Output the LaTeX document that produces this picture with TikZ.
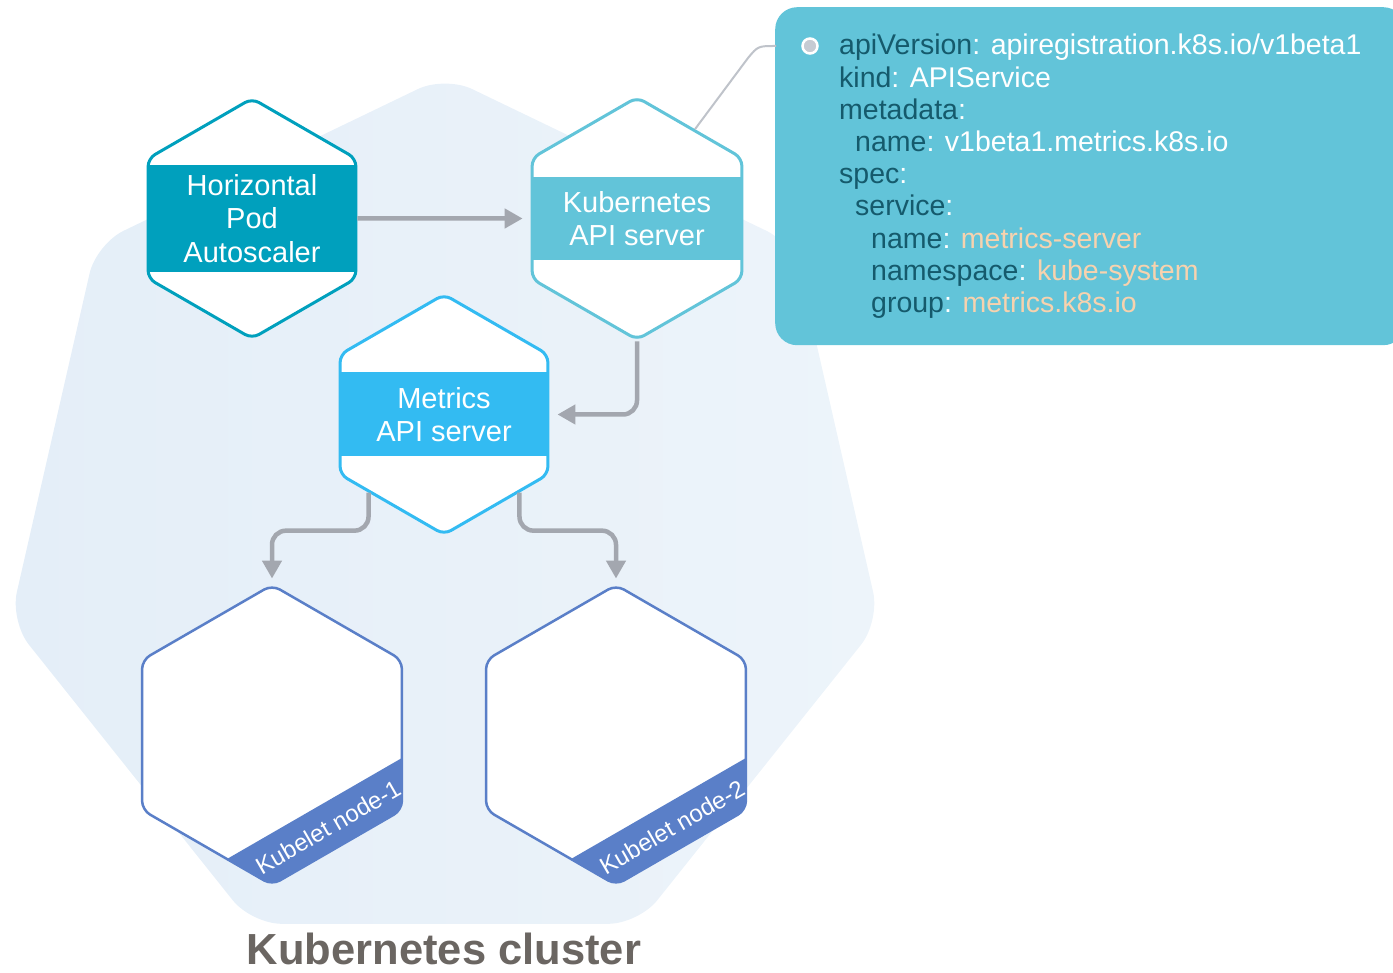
\documentclass[tikz,border=0pt]{standalone}
\usepackage{fontspec}
\setmainfont{Liberation Sans}
\usetikzlibrary{arrows.meta,positioning,calc,shapes.geometric}

\definecolor{clusterleft}{HTML}{E4EEF8}
\definecolor{clusterright}{HTML}{EDF4FA}
\definecolor{hpacol}{HTML}{00A0BD}
\definecolor{apicol}{HTML}{62C4D9}
\definecolor{metricscol}{HTML}{33BBF2}
\definecolor{kubeletcol}{HTML}{5A7FC8}
\definecolor{arrowcol}{HTML}{A3A7AF}
\definecolor{tethercol}{HTML}{BFC3CA}
\definecolor{keycol}{HTML}{155A6C}
\definecolor{peach}{HTML}{F7D2AE}
\definecolor{titlecol}{HTML}{6B6662}
\definecolor{dotcol}{HTML}{C6CBD3}

\newcommand{\ykey}[1]{\textcolor{keycol}{#1}}
\newcommand{\yval}[1]{\textcolor{peach}{#1}}

\tikzset{
  cluster/.style={regular polygon, regular polygon sides=7, minimum size=892pt,
    inner sep=0pt, rounded corners=30pt, left color=clusterleft, right color=clusterright},
  clustername/.style={text=titlecol, font=\fontsize{43.5}{48}\selectfont\bfseries},
  hexnode/.style 2 args={regular polygon, regular polygon sides=6, shape border rotate=30,
    minimum size=240pt, inner sep=0pt, draw=#1, line width=3pt, fill=white,
    rounded corners=8pt, text=white, align=center,
    font=\fontsize{29}{33.5}\selectfont,
    path picture={\fill[#1, sharp corners]
      ([xshift=-130pt,yshift=#2]path picture bounding box.center) rectangle
      ([xshift=130pt,yshift=-#2]path picture bounding box.center);}},
  kubenode/.style={regular polygon, regular polygon sides=6, shape border rotate=30,
    minimum size=300pt, inner sep=0pt, draw=kubeletcol, line width=2.5pt, fill=white,
    rounded corners=9pt,
    path picture={\fill[kubeletcol, sharp corners]
      ([xshift=-150pt,yshift=-184.6pt]path picture bounding box.center) --
      ([xshift=150pt,yshift=-11.4pt]path picture bounding box.center) --
      ([xshift=150pt,yshift=-230pt]path picture bounding box.center) --
      ([xshift=-150pt,yshift=-230pt]path picture bounding box.center) -- cycle;}},
  kubename/.style={text=white, rotate=30, inner sep=0pt, font=\fontsize{24}{28}\selectfont},
  spec/.style={anchor=north west, minimum width=630pt, minimum height=338pt,
    fill=apicol, rounded corners=22pt},
  bullet/.style={circle, minimum size=15pt, inner sep=0pt, fill=dotcol, draw=white, line width=2.5pt},
  yaml/.style={anchor=north west, inner sep=0pt, align=left, text=white,
    font=\fontsize{28.5}{32.2}\selectfont},
  flow/.style={draw=arrowcol, line width=4.5pt, rounded corners=14pt,
    -{Triangle[length=18pt,width=19pt]}},
  tether/.style={draw=tethercol, line width=2pt}
}

\begin{document}
\begin{tikzpicture}[x=1pt, y=-1pt]
  \useasboundingbox (0,0) rectangle (1393,973);

  % cluster
  \node[cluster] (cluster) at (445,522) {};
  \node[clustername, anchor=base] (clustertitle) at (444,964) {Kubernetes cluster};

  % control plane
  \node[hexnode={hpacol}{53.5pt}] (hpa) at (252,218.5) {Horizontal\\Pod\\Autoscaler};
  \node[hexnode={apicol}{41.5pt}] (kapi) at (637,218.5) {Kubernetes\\API server};
  \node[hexnode={metricscol}{42pt}] (mapi) at (444,414.5) {Metrics\\API server};

  % nodes
  \node[kubenode] (kube1) at (272,735) {};
  \node[kubenode] (kube2) at (616,735) {};
  \node[kubename] (kube1name) at ($(kube1.center)+(56,92)$) {Kubelet node-1};
  \node[kubename] (kube2name) at ($(kube2.center)+(56,92)$) {Kubelet node-2};

  % APIService
  \node[spec] (spec) at (775,7) {};
  \coordinate (tab) at (776,46);
  \node[bullet] (dot) at (810,46) {};
  \node[yaml] (specyaml) at (839,34) {%
    \ykey{apiVersion}: apiregistration.k8s.io/v1beta1\\
    \ykey{kind}: APIService\\
    \ykey{metadata}:\\
    \hspace*{16pt}\ykey{name}: v1beta1.metrics.k8s.io\\
    \ykey{spec}:\\
    \hspace*{16pt}\ykey{service}:\\
    \hspace*{32pt}\ykey{name}: \yval{metrics-server}\\
    \hspace*{32pt}\ykey{namespace}: \yval{kube-system}\\
    \hspace*{32pt}\ykey{group}: \yval{metrics.k8s.io}};

  \draw[tether] (kapi.57) -- (748,58) .. controls (758,46) .. (tab);

  \draw[flow, shorten >=8pt] (hpa.east) -- (kapi.west);
  \draw[flow, shorten >=8pt] (kapi.south) |- (mapi.east);
  \draw[flow, shorten >=5pt] (mapi.-134) -- ++(0,38) -| (kube1.north);
  \draw[flow, shorten >=5pt] (mapi.-46) -- ++(0,38) -| (kube2.north);
\end{tikzpicture}
\end{document}
